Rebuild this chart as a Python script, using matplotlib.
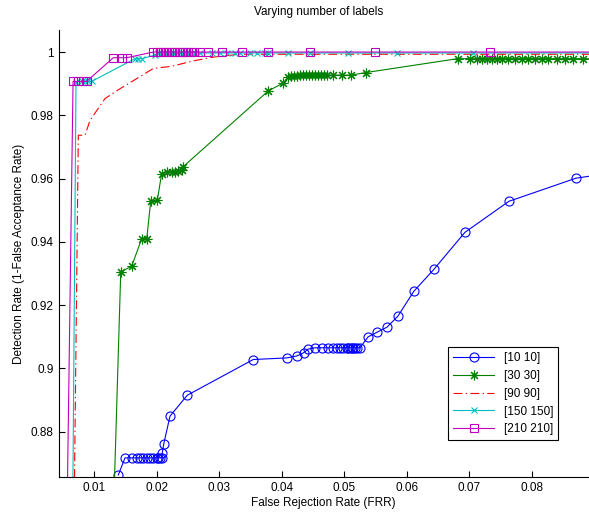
import numpy as np
import matplotlib
matplotlib.use("Agg")
import matplotlib.pyplot as plt
from matplotlib.ticker import FuncFormatter

plt.rcParams['font.family'] = ['Liberation Sans', 'DejaVu Sans']
plt.rcParams['font.size'] = 8.5

# [10 10]
x10 = [0.01388, 0.01495, 0.01602, 0.01682, 0.01735, 0.01788, 0.01842, 0.01895,
       0.01947, 0.02002, 0.02027, 0.02054, 0.02081, 0.02091, 0.02113, 0.02214,
       0.0249, 0.03545, 0.04078, 0.04238, 0.04355, 0.04423, 0.0453, 0.04637,
       0.04743, 0.04823, 0.04877, 0.0493, 0.04982, 0.05036, 0.05061, 0.05089,
       0.05115, 0.05142, 0.05169, 0.05196, 0.05249, 0.05382, 0.05521, 0.0568,
       0.05856, 0.06112, 0.06431, 0.06927, 0.07629, 0.08699, 0.0950]
y10 = [0.8663, 0.8717, 0.8717, 0.8717, 0.8717, 0.8717, 0.8717, 0.8717,
       0.8717, 0.8717, 0.8717, 0.8717, 0.8717, 0.8733, 0.8760, 0.8849,
       0.8915, 0.9028, 0.9033, 0.9039, 0.9050, 0.9061, 0.9065, 0.9065,
       0.9065, 0.9065, 0.9065, 0.9065, 0.9065, 0.9065, 0.9065, 0.9065,
       0.9065, 0.9065, 0.9065, 0.9065, 0.9065, 0.9100, 0.9114, 0.9130,
       0.9165, 0.9244, 0.9313, 0.9430, 0.9528, 0.9601, 0.9625]

# [30 30]
x30 = [0.0132, 0.01427, 0.01602, 0.01762, 0.01842, 0.01906, 0.02011, 0.02081,
       0.02161, 0.02241, 0.02294, 0.02347, 0.02401, 0.02427, 0.03784, 0.04024,
       0.04099, 0.04147, 0.04195, 0.04243, 0.04291, 0.04339, 0.04387, 0.04435,
       0.04482, 0.0453, 0.04578, 0.04626, 0.04674, 0.04722, 0.04823, 0.04957,
       0.05105, 0.0534, 0.0681, 0.07006, 0.07113, 0.07193, 0.07273, 0.07353,
       0.07433, 0.07513, 0.07618, 0.07725, 0.07832, 0.07938, 0.08045, 0.08152,
       0.08257, 0.08391, 0.08524, 0.08657, 0.08816, 0.0920]
y30 = [0.8600, 0.9305, 0.9323, 0.9410, 0.9410, 0.9528, 0.9531, 0.9616,
       0.9620, 0.9622, 0.9622, 0.9624, 0.9628, 0.9638, 0.9877, 0.9902,
       0.9921, 0.9924, 0.9925, 0.9925, 0.9926, 0.9926, 0.9926, 0.9926,
       0.9926, 0.9926, 0.9926, 0.9926, 0.9926, 0.9926, 0.9927, 0.9927,
       0.9927, 0.9935, 0.9979, 0.9979, 0.9979, 0.9979, 0.9979, 0.9979,
       0.9979, 0.9979, 0.9979, 0.9979, 0.9979, 0.9979, 0.9979, 0.9979,
       0.9979, 0.9979, 0.9979, 0.9979, 0.9979, 0.9979]

# [90 90]
x90 = [0.00685, 0.00749, 0.00856, 0.00936, 0.01176, 0.01415, 0.01682, 0.01947,
       0.02241, 0.02586, 0.02906, 0.03332, 0.0950]
y90 = [0.8600, 0.9737, 0.9737, 0.9784, 0.9853, 0.9884, 0.9916, 0.9948,
       0.9955, 0.9972, 0.9984, 0.9993, 0.9993]

# [150 150]
x150 = [0.00661, 0.00712, 0.0080, 0.0086, 0.0091, 0.0096, 0.01655, 0.0170,
        0.01762, 0.0197, 0.0202, 0.0207, 0.0212, 0.0217, 0.0222, 0.0227,
        0.0232, 0.0237, 0.0242, 0.0247, 0.0252, 0.0257, 0.0262, 0.0269,
        0.0288, 0.03013, 0.0312, 0.03252, 0.03332, 0.03492, 0.03599, 0.03732,
        0.03784, 0.04104, 0.0445, 0.05062, 0.05835, 0.07059, 0.0950]
y150 = [0.8600, 0.9905, 0.9907, 0.9907, 0.9907, 0.9907, 0.9979, 0.9979,
        0.9979, 0.9990, 0.9997, 0.9997, 0.9997, 0.9997, 0.9997, 0.9997,
        0.9997, 0.9997, 0.9997, 0.9997, 0.9997, 0.9997, 0.9997, 0.9997,
        0.9997, 0.9997, 0.9997, 0.9997, 0.9997, 0.9997, 0.9997, 0.9997,
        0.9997, 0.9997, 0.9997, 0.9997, 0.9997, 0.9997, 0.9997]

# [210 210]
x210 = [0.00573, 0.00665, 0.0075, 0.0083, 0.0088, 0.01308, 0.01443, 0.01522,
        0.01947, 0.0200, 0.0205, 0.0210, 0.0215, 0.0220, 0.0225, 0.0230,
        0.0235, 0.0240, 0.0245, 0.0250, 0.0255, 0.0260, 0.02693, 0.02826,
        0.0304, 0.03359, 0.03784, 0.0445, 0.05489, 0.07326, 0.0950]
y210 = [0.8600, 0.9907, 0.9907, 0.9907, 0.9907, 0.9982, 0.9982, 0.9982,
        1.0, 1.0, 1.0, 1.0, 1.0, 1.0, 1.0, 1.0,
        1.0, 1.0, 1.0, 1.0, 1.0, 1.0, 1.0, 1.0,
        1.0, 1.0, 1.0, 1.0, 1.0, 1.0, 1.0]

labels = ['[10 10]', '[30 30]', '[90 90]', '[150 150]', '[210 210]']
xticks = [0.01, 0.02, 0.03, 0.04, 0.05, 0.06, 0.07, 0.08]
yticks = [0.88, 0.90, 0.92, 0.94, 0.96, 0.98, 1.0]

fig = plt.figure(figsize=(5.89, 5.12), dpi=100)
ax = fig.add_axes([0.0995, 0.068, 0.9005, 0.873])

lw = 0.8
ax.plot(x10, y10, '-o', color='blue', lw=lw, ms=6.5, mfc='none', mew=0.8, label=labels[0])
ax.plot(x30, y30, '-', marker=(8, 2, 0), color='green', lw=lw, ms=7, mew=0.8, label=labels[1])
ax.plot(x90, y90, '-.', color='red', lw=lw, dashes=(8, 3, 1.2, 3), label=labels[2])
ax.plot(x150, y150, '-x', color=(0, 0.75, 0.75), lw=lw, ms=5, mew=0.8, label=labels[3])
ax.plot(x210, y210, '-s', color=(0.75, 0, 0.75), lw=lw, ms=6, mfc='none', mew=0.8, label=labels[4])

ax.set_xlim(0.00434, 0.0891)
ax.set_ylim(0.8656, 1.0069)
ax.set_xticks(xticks)
ax.set_yticks(yticks)
ax.yaxis.set_major_formatter(FuncFormatter(lambda v, p: '%g' % round(v, 4)))
ax.xaxis.set_major_formatter(FuncFormatter(lambda v, p: '%g' % round(v, 4)))
ax.tick_params(direction='in', length=4, width=0.8)
ax.spines['top'].set_visible(False)
ax.spines['right'].set_visible(False)

ax.set_title('Varying number of labels', fontsize=8.5, pad=11, x=0.49)
ax.set_xlabel('False Rejection Rate (FRR)', labelpad=2)
ax.set_ylabel('Detection Rate (1-False Acceptance Rate)', labelpad=4)

leg = ax.legend(loc='lower right', bbox_to_anchor=(0.9415, 0.0828),
                fancybox=False, framealpha=1, edgecolor='black',
                borderaxespad=0, handlelength=3.5)
leg.get_frame().set_linewidth(0.8)

fig.savefig('out.png', dpi=100)
